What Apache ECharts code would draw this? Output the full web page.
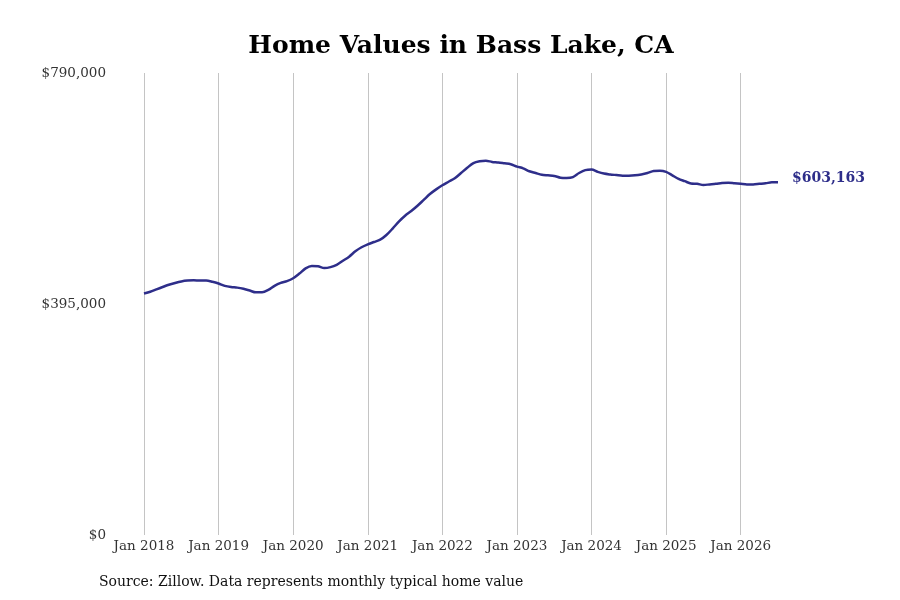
<!DOCTYPE html>
<html>
<head>
<meta charset="utf-8">
<title>Home Values in Bass Lake, CA</title>
<script src="https://cdn.jsdelivr.net/npm/echarts@6/dist/echarts.min.js"></script>
<style>
  html, body { margin: 0; padding: 0; background: #fff; }
  #chart { width: 900px; height: 600px; }
</style>
</head>
<body>
<div id="chart"></div>
<script>
// 数据：2018年1月起的月度典型房价（单位：美元，按图读取估计）
const startYear = 2018;
const values = [
  413000, 416000, 420000, 424000, 428000, 431000, 433500, 435000, 435500, 435000, 435000, 433000,
  430000, 426000, 424000, 423000, 421000, 418000, 415000, 415000, 419000, 426000, 431000, 434000,
  439000, 447000, 456000, 460000, 459500, 456500, 458000, 462000, 469000, 476000, 485000, 492000,
  497000, 501000, 505000, 513000, 524000, 536000, 546000, 554000, 563000, 573000, 583000, 591000,
  598000, 604000, 610000, 619000, 628000, 636000, 639000, 640000, 638000, 637000, 635500, 634000,
  630000, 627000, 622000, 619000, 616000, 615000, 614000, 611000, 610500, 612000, 619000, 624000,
  625000, 621000, 618000, 616500, 615500, 614500, 614500, 615000, 616500, 619000, 622500, 623000,
  621000, 615000, 609000, 605000, 601000, 600500, 598500, 599500, 600500, 602000, 602500, 601500,
  600500, 599500, 599500, 600500, 601500, 603000, 603163
];
const monthNames = ['Jan', 'Feb', 'Mar', 'Apr', 'May', 'Jun', 'Jul', 'Aug', 'Sep', 'Oct', 'Nov', 'Dec'];
const categories = values.map((v, i) => monthNames[i % 12] + ' ' + (startYear + Math.floor(i / 12)));
const yTicks = [0, 395000, 790000];

const serif = "'DejaVu Serif', serif";
const lineColor = '#2e2e8a';
const isJan = (idx) => idx % 12 === 0;
const money = (v) => '$' + Math.round(v).toLocaleString('en-US');

const chart = echarts.init(document.getElementById('chart'));
const optionData = {
  backgroundColor: '#fff',
  animation: false,
  title: [{
    text: 'Home Values in Bass Lake, CA',
    left: 456,
    top: 29,
    textAlign: 'center',
    textStyle: {
      fontFamily: serif,
      fontWeight: 'bold',
      fontSize: 25,
      color: '#000'
    }
  }, {
    text: 'Source: Zillow. Data represents monthly typical home value',
    left: 94,
    top: 570,
    textStyle: {
      fontFamily: serif,
      fontWeight: 'normal',
      fontSize: 14,
      color: '#111'
    }
  }],
  grid: {
    left: 144,
    right: 122,
    top: 73,
    bottom: 65,
    containLabel: false
  },
  xAxis: {
    type: 'category',
    boundaryGap: false,
    data: categories,
    axisLine: { show: false },
    axisTick: { show: false },
    axisLabel: {
      interval: isJan,
      margin: 4,
      fontFamily: serif,
      fontSize: 13.5,
      color: '#333'
    },
    splitLine: {
      show: true,
      interval: isJan,
      lineStyle: { color: '#c4c4c4', width: 1 }
    }
  },
  yAxis: {
    type: 'value',
    min: yTicks[0],
    max: yTicks[yTicks.length - 1],
    interval: yTicks[1] - yTicks[0],
    axisLine: { show: false },
    axisTick: { show: false },
    splitLine: { show: false },
    axisLabel: {
      margin: 38,
      fontFamily: serif,
      fontSize: 13.5,
      color: '#333',
      formatter: money
    }
  },
  series: [{
    name: 'Home value',
    type: 'line',
    data: values,
    smooth: 0.3,
    symbol: 'none',
    lineStyle: { color: lineColor, width: 2.5 },
    endLabel: {
      show: true,
      distance: 14,
      offset: [0, -4],
      formatter: (p) => money(p.value),
      fontFamily: serif,
      fontWeight: 'bold',
      fontSize: 14,
      color: lineColor
    }
  }]
};
chart.setOption(optionData);
</script>
</body>
</html>
